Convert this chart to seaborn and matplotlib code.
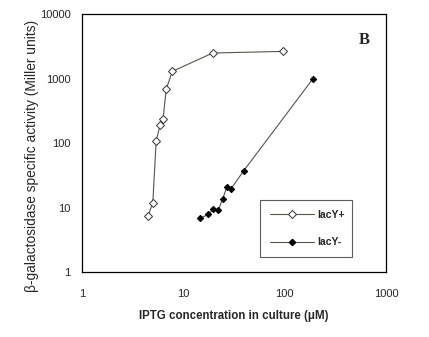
import numpy as np
import pandas as pd
import matplotlib
matplotlib.use("Agg")
import matplotlib.pyplot as plt
import seaborn as sns
from matplotlib.lines import Line2D

# Data
lacy_plus_x = [4.5, 5.0, 5.4, 5.9, 6.3, 6.8, 7.8, 19.5, 97]
lacy_plus_y = [7.5, 12, 110, 190, 235, 700, 1300, 2500, 2650]
lacy_minus_x = [14.7, 17.7, 19.8, 22.0, 24.5, 26.8, 29.4, 39.5, 190]
lacy_minus_y = [6.9, 7.9, 9.6, 9.1, 13.8, 20.8, 19.5, 37.6, 1000]
series_names = ["lacY+", "lacY-"]
x_ticks = [1, 10, 100, 1000]
y_ticks = [1, 10, 100, 1000, 10000]

df = pd.DataFrame({
    "x": lacy_plus_x + lacy_minus_x,
    "y": lacy_plus_y + lacy_minus_y,
    "strain": [series_names[0]] * len(lacy_plus_x) + [series_names[1]] * len(lacy_minus_x),
})

sns.set_style("white")
plt.rcParams["font.family"] = ["Liberation Sans", "DejaVu Sans"]

fig = plt.figure(figsize=(4.29, 3.37), dpi=100)
ax = fig.add_axes([0.191, 0.192, 0.709, 0.766])

line_col = "#55554a"
sns.lineplot(data=df[df.strain == series_names[0]], x="x", y="y", ax=ax,
             color=line_col, lw=0.8, marker="D", markersize=4,
             markerfacecolor="white", markeredgecolor="#333333", markeredgewidth=0.7,
             sort=False, estimator=None)
sns.lineplot(data=df[df.strain == series_names[1]], x="x", y="y", ax=ax,
             color=line_col, lw=0.8, marker="D", markersize=3.2,
             markerfacecolor="black", markeredgecolor="black",
             sort=False, estimator=None)

ax.set_xscale("log")
ax.set_yscale("log")
ax.set_xlim(1, 1000)
ax.set_ylim(1, 10000)
ax.set_xticks(x_ticks)
ax.set_xticklabels([str(t) for t in x_ticks])
ax.set_yticks(y_ticks)
ax.set_yticklabels([str(t) for t in y_ticks])
ax.minorticks_off()
ax.tick_params(axis="y", which="major", labelsize=8, length=6, width=0.8,
               direction="out", color="black", pad=2)
ax.tick_params(axis="x", which="major", labelsize=8, length=4, width=0.8,
               direction="inout", color="black", pad=10)
for s in ax.spines.values():
    s.set_color("black")
    s.set_linewidth(0.9)

ax.set_xlabel("IPTG concentration in culture (\u03bcM)", fontsize=8.3, fontweight="bold", labelpad=8)
ax.set_ylabel("\u03b2-galactosidase specific activity (Miller units)", fontsize=9.9)
ax.yaxis.set_label_coords(-0.14, 0.45)

ax.text(0.945, 0.87, "B", transform=ax.transAxes, fontsize=12, fontweight="bold",
        family="Liberation Serif", ha="right", va="bottom")

handles = [
    Line2D([], [], color=line_col, lw=0.8, marker="D", markersize=4,
           markerfacecolor="white", markeredgecolor="#333333", markeredgewidth=0.7),
    Line2D([], [], color=line_col, lw=0.8, marker="D", markersize=3.2,
           markerfacecolor="black", markeredgecolor="black"),
]
leg = ax.legend(handles, series_names, loc="lower left", bbox_to_anchor=(0.586, 0.059, 0.302, 0.23),
                mode="expand", frameon=True, fancybox=False, handlelength=4.2,
                labelspacing=1.65, borderpad=0.95, handletextpad=0.35, borderaxespad=0,
                prop={"weight": "bold", "size": 7.5})
leg.get_frame().set_edgecolor("#333333")
leg.get_frame().set_linewidth(0.8)

fig.savefig("out.png", dpi=100)
